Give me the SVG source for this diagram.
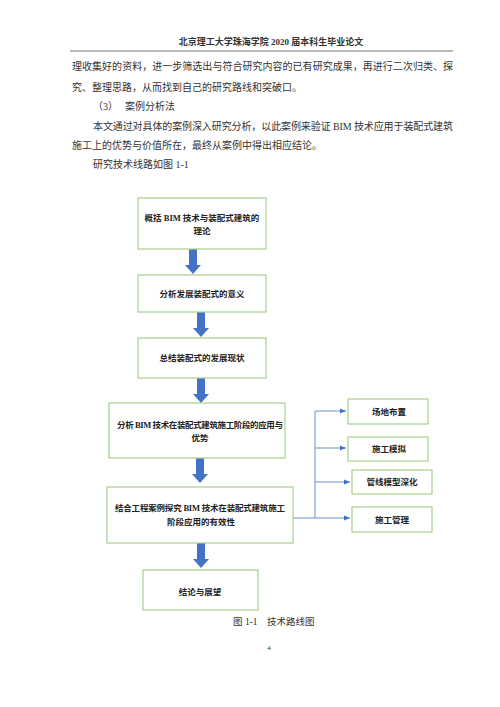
<svg xmlns="http://www.w3.org/2000/svg" width="500" height="707" viewBox="0 0 500 707">
<defs>
<style>
.pg{font-family:"Liberation Serif","Noto Sans CJK SC",serif;fill:#333;}
.body{font-size:10px;}
.box{fill:#fff;stroke:#a8d08d;stroke-width:1.2;}
.bt{font-family:"Liberation Serif","Noto Sans CJK SC",serif;font-size:8.5px;fill:#222;font-weight:600;text-anchor:middle;dominant-baseline:central;}
.blk{fill:#4472c4;}
.con{fill:none;stroke:#6b8fd0;stroke-width:1;}
</style>
<marker id="ah" viewBox="0 0 10 10" refX="10" refY="5" markerWidth="6" markerHeight="6" markerUnits="userSpaceOnUse" orient="auto">
<path d="M0,1 L10,5 L0,9 Z" fill="#4472c4"/>
</marker>
<path id="blockArrow" d="M-4,0 H4 V16 H8 L0,25 L-8,16 H-4 Z"/>
</defs>
<rect width="500" height="707" fill="#fff"/>

<!-- page header and body text -->
<text class="pg" x="271" y="45" font-size="9" font-weight="bold" text-anchor="middle">北京理工大学珠海学院 2020 届本科生毕业论文</text>
<line x1="70" y1="51" x2="453" y2="51" stroke="#777" stroke-width="1.2"/>
<g class="pg body" dominant-baseline="central">
<text x="72" y="66" textLength="381" lengthAdjust="spacing">理收集好的资料，进一步筛选出与符合研究内容的已有研究成果，再进行二次归类、探</text>
<text x="72" y="87">究、整理思路，从而找到自己的研究路线和突破口。</text>
<text x="93" y="106">（3）</text>
<text x="125" y="106">案例分析法</text>
<text x="93" y="126" textLength="360" lengthAdjust="spacing">本文通过对具体的案例深入研究分析，以此案例来验证 BIM 技术应用于装配式建筑</text>
<text x="72" y="145">施工上的优势与价值所在，最终从案例中得出相应结论。</text>
<text x="93" y="164">研究技术线路如图 1-1</text>
</g>

<!-- connectors -->
<g id="connectors">
<use href="#blockArrow" class="blk" x="193" y="249"/>
<use href="#blockArrow" class="blk" x="201" y="312"/>
<use href="#blockArrow" class="blk" x="201" y="378"/>
<use href="#blockArrow" class="blk" x="200" y="458"/>
<use href="#blockArrow" class="blk" x="201" y="543"/>
<path class="con" d="M293,518 H315 M315,411 V518"/>
<path class="con" d="M315,411 H346" marker-end="url(#ah)"/>
<path class="con" d="M315,448 H346" marker-end="url(#ah)"/>
<path class="con" d="M315,482 H350" marker-end="url(#ah)"/>
<path class="con" d="M315,518 H350" marker-end="url(#ah)"/>
</g>

<!-- nodes -->
<g id="n1"><rect class="box" x="138" y="198" width="128" height="51"/>
<text class="bt" x="202" y="218">概括 BIM 技术与装配式建筑的</text>
<text class="bt" x="202" y="231">理论</text></g>
<g id="n2"><rect class="box" x="138" y="275" width="128" height="37"/>
<text class="bt" x="202" y="294">分析发展装配式的意义</text></g>
<g id="n3"><rect class="box" x="138" y="338" width="128" height="40"/>
<text class="bt" x="202" y="358">总结装配式的发展现状</text></g>
<g id="n4"><rect class="box" x="109" y="403" width="176" height="55"/>
<text class="bt" x="200" y="425" textLength="166" lengthAdjust="spacing">分析 BIM 技术在装配式建筑施工阶段的应用与</text>
<text class="bt" x="200" y="438">优势</text></g>
<g id="n5"><rect class="box" x="107" y="487" width="186" height="56"/>
<text class="bt" x="200" y="508" textLength="170" lengthAdjust="spacing">结合工程案例探究 BIM 技术在装配式建筑施工</text>
<text class="bt" x="201" y="522">阶段应用的有效性</text></g>
<g id="n6"><rect class="box" x="143" y="570" width="115" height="40"/>
<text class="bt" x="200" y="592">结论与展望</text></g>
<g id="r1"><rect class="box" x="348" y="399" width="80" height="25"/>
<text class="bt" x="389" y="412">场地布置</text></g>
<g id="r2"><rect class="box" x="348" y="437" width="80" height="24"/>
<text class="bt" x="389" y="449">施工模拟</text></g>
<g id="r3"><rect class="box" x="352" y="470" width="80" height="24"/>
<text class="bt" x="392" y="482">管线模型深化</text></g>
<g id="r4"><rect class="box" x="352" y="507" width="80" height="25"/>
<text class="bt" x="392" y="520">施工管理</text></g>

<!-- caption and page number -->
<text class="pg" x="233" y="622" font-size="9.5" dominant-baseline="central">图 1-1</text>
<text class="pg" x="267" y="622" font-size="9.5" dominant-baseline="central">技术路线图</text>
<text class="pg" x="269" y="648" font-size="7" text-anchor="middle" dominant-baseline="central">4</text>
</svg>
